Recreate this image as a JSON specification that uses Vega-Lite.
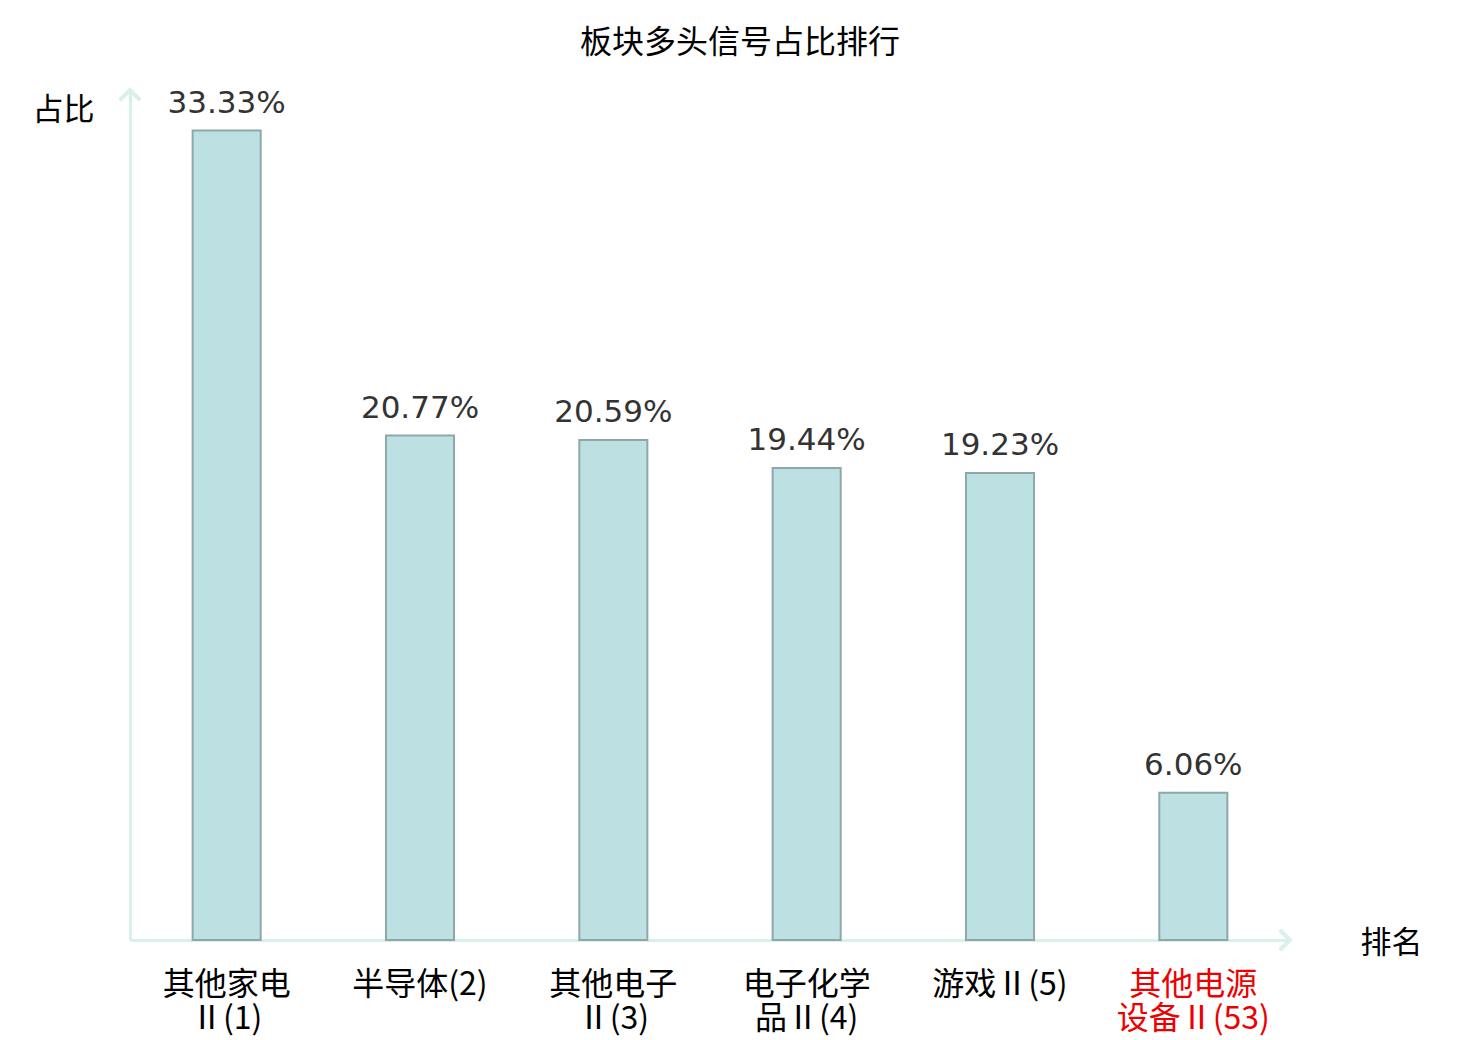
{
  "$schema": "https://vega.github.io/schema/vega-lite/v6.json",
  "autosize": "none",
  "padding": {"left": 130, "top": 90, "right": 190, "bottom": 100},
  "width": 1160,
  "height": 850,
  "background": "white",
  "title": {
    "text": "板块多头信号占比排行",
    "font": "Noto Sans CJK SC",
    "fontSize": 32,
    "fontWeight": "normal",
    "color": "#000000",
    "anchor": "middle",
    "dx": 30,
    "offset": 23
  },
  "config": {"view": {"stroke": null}},
  "data": {
    "values": [
      {"name": "其他家电Ⅱ(1)", "pct": 33.33, "label": "33.33%"},
      {"name": "半导体(2)", "pct": 20.77, "label": "20.77%"},
      {"name": "其他电子Ⅱ(3)", "pct": 20.59, "label": "20.59%"},
      {"name": "电子化学品Ⅱ(4)", "pct": 19.44, "label": "19.44%"},
      {"name": "游戏Ⅱ(5)", "pct": 19.23, "label": "19.23%"},
      {"name": "其他电源设备Ⅱ(53)", "pct": 6.06, "label": "6.06%"}
    ]
  },
  "layer": [
    {
      "mark": {"type": "bar", "fill": "#bde0e3", "stroke": "#8ea8a9", "strokeWidth": 2},
      "encoding": {
        "x": {
          "field": "name",
          "type": "nominal",
          "sort": null,
          "scale": {"paddingInner": 0.648, "paddingOuter": 0.324},
          "axis": {
            "title": "排名",
            "titleFont": "Noto Sans CJK SC",
            "titleFontSize": 31,
            "titleFontWeight": "normal",
            "titleColor": "#000000",
            "titleAngle": 0,
            "titleAlign": "center",
            "titleBaseline": "middle",
            "titleX": 1261,
            "titleY": 3,
            "domainColor": "#daf0ed",
            "domainWidth": 3,
            "ticks": false,
            "labelAngle": 0,
            "labelFont": "Noto Sans CJK SC",
            "labelFontSize": 32,
            "labelLineHeight": 34,
            "labelPadding": 29,
            "labelExpr": "length(datum.label) > 6 ? [substring(datum.label, 0, 4), substring(datum.label, 4)] : datum.label",
            "labelColor": {"condition": {"test": "datum.value == '其他电源设备Ⅱ(53)'", "value": "#ee0000"}, "value": "#000000"}
          }
        },
        "y": {
          "field": "pct",
          "type": "quantitative",
          "scale": {"domain": [0, 35], "nice": false},
          "axis": {
            "title": "占比",
            "titleFont": "Noto Sans CJK SC",
            "titleFontSize": 31,
            "titleFontWeight": "normal",
            "titleColor": "#000000",
            "titleAngle": 0,
            "titleAlign": "center",
            "titleBaseline": "middle",
            "titleX": -67,
            "titleY": 20,
            "domainColor": "#daf0ed",
            "domainWidth": 3,
            "ticks": false,
            "labels": false,
            "grid": false
          }
        }
      }
    },
    {
      "mark": {"type": "text", "font": "DejaVu Sans", "fontSize": 31, "color": "#333333", "baseline": "alphabetic", "dy": -18},
      "encoding": {
        "x": {"field": "name", "type": "nominal", "sort": null, "scale": {"paddingInner": 0.648, "paddingOuter": 0.324}, "axis": null},
        "y": {"field": "pct", "type": "quantitative", "scale": {"domain": [0, 35], "nice": false}},
        "text": {"field": "label"}
      }
    },
    {
      "mark": {"type": "point", "shape": "M-1,-1L0,0L-1,1", "filled": false, "stroke": "#daf0ed", "strokeWidth": 3.5, "size": 400, "opacity": 1},
      "encoding": {
        "x": {"datum": 1, "type": "quantitative", "scale": {"domain": [0, 1]}, "axis": null},
        "y": {"datum": 0, "type": "quantitative", "scale": {"domain": [0, 35], "nice": false}}
      }
    },
    {
      "mark": {"type": "point", "shape": "M-1,1L0,0L1,1", "filled": false, "stroke": "#daf0ed", "strokeWidth": 3.5, "size": 400, "opacity": 1},
      "encoding": {
        "x": {"datum": 0, "type": "quantitative", "scale": {"domain": [0, 1]}, "axis": null},
        "y": {"datum": 35, "type": "quantitative", "scale": {"domain": [0, 35], "nice": false}}
      }
    }
  ],
  "resolve": {"scale": {"x": "independent"}, "axis": {"x": "independent"}}
}
